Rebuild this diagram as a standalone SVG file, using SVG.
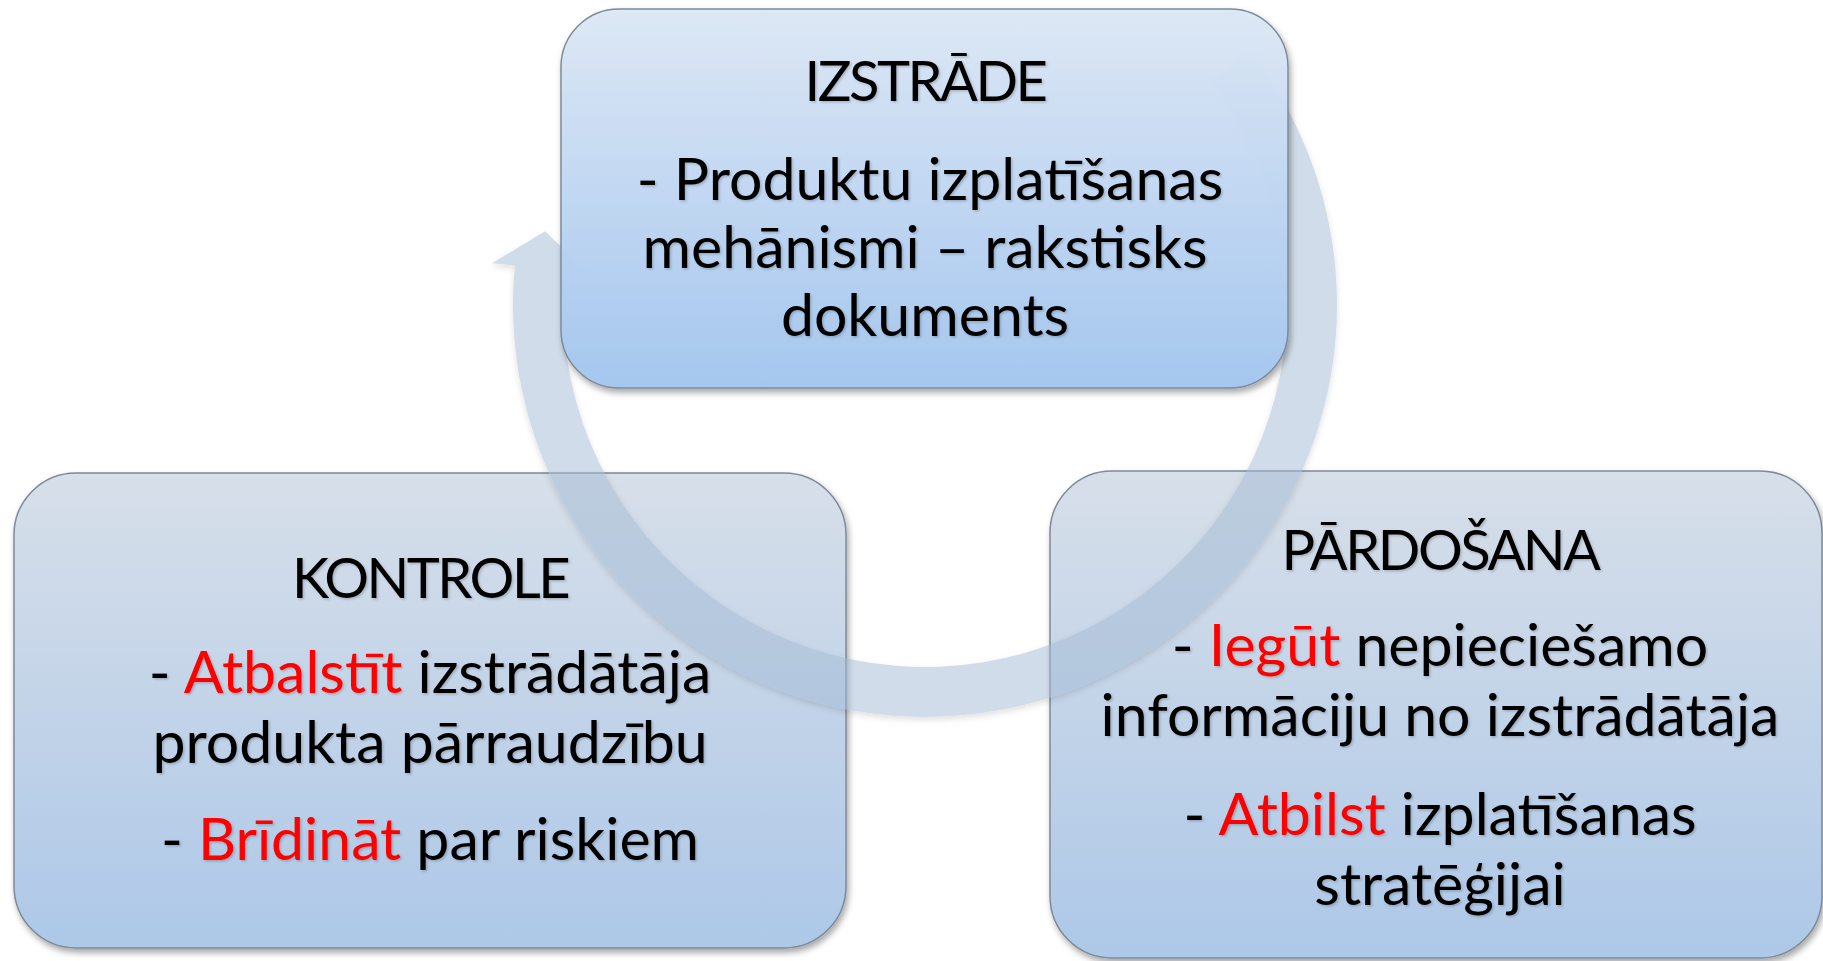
<svg xmlns="http://www.w3.org/2000/svg" width="1823" height="961" viewBox="0 0 1823 961">
  <defs>
    <linearGradient id="gTop" x1="0" y1="0" x2="0" y2="1">
      <stop offset="0" stop-color="#dde8f5"/>
      <stop offset="1" stop-color="#a3c6f0"/>
    </linearGradient>
    <linearGradient id="gLow" x1="0" y1="0" x2="0" y2="1">
      <stop offset="0" stop-color="#d7dfe9"/>
      <stop offset="1" stop-color="#adc8e8"/>
    </linearGradient>
    <filter id="boxShadow" x="-5%" y="-5%" width="115%" height="115%">
      <feDropShadow dx="2" dy="4" stdDeviation="3" flood-color="#000" flood-opacity="0.35"/>
    </filter>
    <filter id="arcShadow" x="-5%" y="-5%" width="115%" height="115%">
      <feDropShadow dx="0" dy="3" stdDeviation="3" flood-color="#000" flood-opacity="0.25"/>
    </filter>
    <filter id="textShadow" x="-5%" y="-20%" width="110%" height="140%">
      <feDropShadow dx="1.5" dy="1.5" stdDeviation="1.2" flood-color="#000" flood-opacity="0.2"/>
    </filter>
  </defs>
  <style>
    .box { stroke: #7d8a99; stroke-width: 1.5; filter: url(#boxShadow); }
    .top { fill: url(#gTop); }
    .low { fill: url(#gLow); }
    .t { font-family: Lato, "Liberation Sans", sans-serif; font-size: 59px; fill: #000; text-anchor: middle; filter: url(#textShadow); }
    .h { font-size: 56px; letter-spacing: -2.5px; }
    .red { fill: #ff0000; }
    .arc { fill: #a3bbd5; opacity: 0.5; }
  </style>
  <rect width="1823" height="961" fill="#ffffff"/>

  <g id="kontrole">
    <rect class="box low" x="14" y="473" width="832" height="475" rx="62" ry="62"/>
    <text class="t h" x="430" y="598">KONTROLE</text>
    <text class="t" x="430" y="693">- <tspan class="red">Atbalstīt</tspan> izstrādātāja</text>
    <text class="t" x="430" y="763">produkta pārraudzību</text>
    <text class="t" x="430" y="860">- <tspan class="red">Brīdināt</tspan> par riskiem</text>
  </g>

  <g id="pardosana">
    <rect class="box low" x="1050" y="471" width="772" height="487" rx="62" ry="62"/>
    <text class="t h" x="1440" y="570">PĀRDOŠANA</text>
    <text class="t" x="1440" y="666">- <tspan class="red">Iegūt</tspan> nepieciešamo</text>
    <text class="t" x="1440" y="736">informāciju no izstrādātāja</text>
    <text class="t" x="1440" y="835">- <tspan class="red">Atbilst</tspan> izplatīšanas</text>
    <text class="t" x="1440" y="905">stratēģijai</text>
  </g>

  <g id="connectors">
    <path class="arc" filter="url(#arcShadow)" d="M1249.7,51.3 A412,412 0 1,1 514.9,265.5 L492,263.3 L545.1,231.2 L587.6,272.5 L564.7,270.3 A362,362 0 1,0 1210.3,82.1 Z"/>
  </g>

  <g id="izstrade">
    <rect class="box top" x="561" y="9" width="727" height="379" rx="58" ry="58" fill-opacity="0.96"/>
    <text class="t h" x="925" y="101">IZSTRĀDE</text>
    <text class="t" x="930" y="200">- Produktu izplatīšanas</text>
    <text class="t" x="925" y="268">mehānismi – rakstisks</text>
    <text class="t" x="925" y="336">dokuments</text>
  </g>
</svg>
